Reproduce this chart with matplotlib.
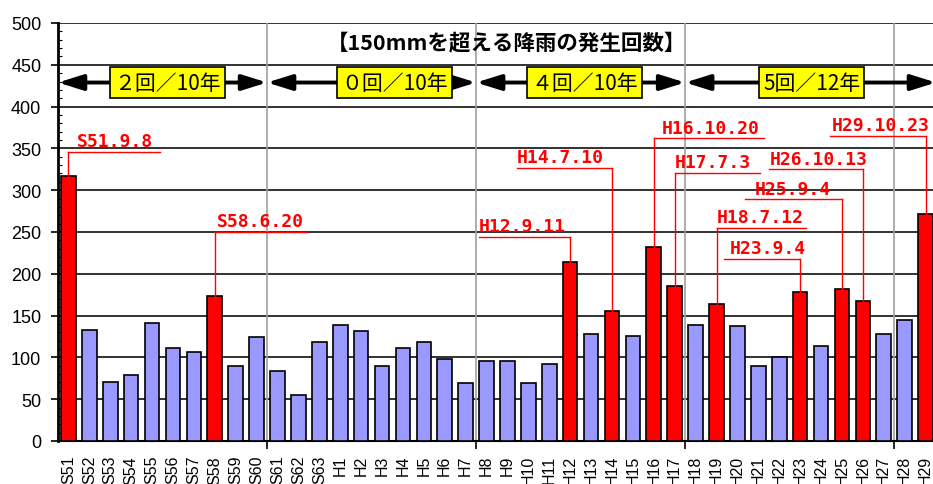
import numpy as np
import matplotlib
matplotlib.use("Agg")
import matplotlib.pyplot as plt
from matplotlib.ticker import MultipleLocator, FixedLocator

# yearly max rainfall (mm)
years = ["S51", "S52", "S53", "S54", "S55", "S56", "S57", "S58", "S59", "S60",
         "S61", "S62", "S63"] + ["H%d" % i for i in range(1, 30)]
rain = [317, 133, 71, 79, 141, 111, 107, 174, 90, 124,
        84, 55, 118, 139, 132, 90, 111, 118, 98, 69,
        96, 96, 69, 92, 214, 128, 156, 126, 232, 186,
        139, 164, 137, 90, 101, 178, 114, 182, 167, 128,
        145, 272]
event_years = ["S51", "S58", "H12", "H14", "H16", "H17", "H19", "H23", "H25", "H26", "H29"]

# periods (boundaries in bar index units) and their counts
period_edges = [-0.5, 9.5, 19.5, 29.5, 41.5]
period_labels = ["２回／10年", "０回／10年", "４回／10年", "5回／12年"]
period_box_x = [4.74, 15.6, 24.7, 35.55]
extra_vlines = [39.5]

# event labels: bar, text, leader y, leader x0, leader x1, text x
ann_bar = ["S51", "S58", "H12", "H14", "H16", "H17", "H19", "H23", "H25", "H26", "H29"]
ann_text = ["S51.9.8", "S58.6.20", "H12.9.11", "H14.7.10", "H16.10.20", "H17.7.3",
            "H18.7.12", "H23.9.4", "H25.9.4", "H26.10.13", "H29.10.23"]
ann_y = [346, 250, 244, 327, 362, 321, 255, 218, 289, 325, 365]
ann_x0 = [None, None, 19.64, 21.46, None, None, None, 31.37, 32.37, 33.52, 36.44]
ann_x1 = [4.38, 11.41, None, None, 33.28, 33.09, 35.29, None, None, None, None]
ann_tx = [0.41, 7.11, 19.64, 21.46, 28.4, 29.02, 31.03, 31.65, 32.85, 33.57, 36.53]

plt.rcParams['font.family'] = ['Liberation Sans', 'Noto Sans CJK JP', 'DejaVu Sans']

fig = plt.figure(figsize=(9.33, 4.85), dpi=100)
ax = fig.add_axes([58 / 933, 43 / 485, 878 / 933, 418 / 485])

x = np.arange(len(years))
colors = ['#ff0000' if y in event_years else '#9999ff' for y in years]
ax.bar(x, rain, width=0.7, color=colors, edgecolor='black', linewidth=1.2, zorder=3)

ax.set_xlim(-0.5, len(years) - 0.5)
ax.set_ylim(0, 500)
ax.yaxis.set_major_locator(MultipleLocator(50))
ax.yaxis.set_minor_locator(MultipleLocator(10))
ax.grid(axis='y', color='#222222', linewidth=1.3, zorder=1)
ax.set_axisbelow(True)

for b in period_edges[1:-1] + extra_vlines:
    ax.axvline(b, color='#a0a0a0', linewidth=1.2, zorder=2)

ax.set_xticks(x)
ax.set_xticklabels(years, rotation=90, fontsize=11.5)
ax.tick_params(axis='x', which='major', length=0, pad=10)
ax.xaxis.set_minor_locator(FixedLocator(period_edges[1:-1] + extra_vlines))
ax.tick_params(axis='x', which='minor', length=6, width=1.2, direction='out')
ax.tick_params(axis='y', which='major', length=5, width=1.2, direction='out', labelsize=13, pad=7)
ax.tick_params(axis='y', which='minor', length=3, width=0.8, direction='in')

for s in ['top', 'right']:
    ax.spines[s].set_visible(False)
ax.spines['left'].set_linewidth(2)
ax.spines['bottom'].set_linewidth(1.5)

# title
ax.text(20.94, 477, "【150mmを超える降雨の発生回数】", ha='center', va='center',
        fontsize=15.5, fontweight='bold', family=['Noto Sans CJK JP', 'DejaVu Sans'], zorder=5)

# period arrows with boxes
for i, lab in enumerate(period_labels):
    ax.annotate("", xy=(period_edges[i], 428.8), xytext=(period_edges[i + 1], 428.8),
                arrowprops=dict(arrowstyle='<|-|>,head_length=15,head_width=4.7',
                                mutation_scale=1, color='black', lw=2.8,
                                shrinkA=0, shrinkB=0),
                annotation_clip=False, zorder=4)
    ax.text(period_box_x[i], 428.8, lab, ha='center', va='center', fontsize=15,
            family=['Noto Sans CJK JP', 'DejaVu Sans'], zorder=6,
            bbox=dict(boxstyle='square,pad=0.2', facecolor='#ffff00', edgecolor='black', linewidth=1.2))

# event labels with leader lines
for i, b in enumerate(ann_bar):
    bi = years.index(b)
    x0 = bi if ann_x0[i] is None else ann_x0[i]
    x1 = bi if ann_x1[i] is None else ann_x1[i]
    ax.plot([x0, x1], [ann_y[i], ann_y[i]], color='red', linewidth=1.0, zorder=4, clip_on=False)
    ax.plot([bi, bi], [ann_y[i], rain[bi]], color='red', linewidth=1.0, zorder=4, clip_on=False)
    ax.annotate(ann_text[i], xy=(ann_tx[i], ann_y[i]), xytext=(0, 4), textcoords='offset points',
                ha='left', va='baseline', color='red', fontsize=13, fontweight='bold',
                family=['DejaVu Sans Mono'], zorder=5, annotation_clip=False)

plt.savefig('out.png', dpi=100)
